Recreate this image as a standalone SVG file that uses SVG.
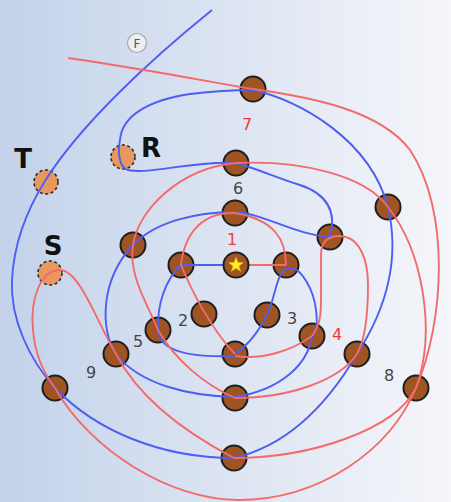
<svg xmlns="http://www.w3.org/2000/svg" width="451" height="502" viewBox="0 0 451 502">
<defs>
<linearGradient id="bg" x1="0" y1="0" x2="1" y2="0">
<stop offset="0" stop-color="#c3d2ea"/>
<stop offset="1" stop-color="#f5f6fa"/>
</linearGradient>
<style>
.b{fill:none;stroke:#4d5ef2;stroke-width:1.9}
.r{fill:none;stroke:#f26b6b;stroke-width:1.9}
.n{fill:#9e5423;stroke:#1e1e1e;stroke-width:2}
.o{fill:#e8985e;stroke:#2a2a2a;stroke-width:1.6;stroke-dasharray:3 2.5}
.lb{font-family:"DejaVu Sans",sans-serif;font-size:16px;fill:#444;text-anchor:middle}
.lr{font-family:"DejaVu Sans",sans-serif;font-size:16px;fill:#ee3a3a;text-anchor:middle}
.big{font-family:"DejaVu Sans",sans-serif;font-size:26px;font-weight:bold;fill:#111;text-anchor:middle}
</style>
</defs>
<rect width="451" height="502" fill="url(#bg)"/>
<g id="F"><circle cx="137" cy="43" r="9.5" fill="#eceef2" stroke="#aaa" stroke-width="1.2"/><text x="137" y="47.5" font-family="DejaVu Sans,sans-serif" font-size="12" fill="#555" text-anchor="middle">F</text></g>
<g id="T"><circle class="o" cx="46" cy="182" r="12"/><text class="big" x="23" y="168">T</text></g>
<g id="R"><circle class="o" cx="123" cy="157" r="12"/><text class="big" x="151" y="157">R</text></g>
<g id="S"><circle class="o" cx="50" cy="273" r="12"/><text class="big" x="53" y="255">S</text></g>
<g id="n7"><circle class="n" cx="253" cy="89" r="12.5"/><text class="lr" x="247" y="130">7</text></g>
<g id="n6"><circle class="n" cx="236" cy="163" r="12.5"/><text class="lb" x="238" y="194">6</text></g>
<g id="n1"><circle class="n" cx="235" cy="213" r="12.5"/><text class="lr" x="232" y="245">1</text></g>
<g id="nli"><circle class="n" cx="181" cy="265" r="12.5"/></g>
<g id="nri"><circle class="n" cx="286" cy="265" r="12.5"/></g>
<g id="n2"><circle class="n" cx="204" cy="314" r="12.5"/><text class="lb" x="183" y="326">2</text></g>
<g id="n3"><circle class="n" cx="267" cy="315" r="12.5"/><text class="lb" x="292" y="324">3</text></g>
<g id="n5"><circle class="n" cx="158" cy="330" r="12.5"/><text class="lb" x="138" y="347">5</text></g>
<g id="n4"><circle class="n" cx="312" cy="336" r="12.5"/><text class="lr" x="337" y="340">4</text></g>
<g id="nbi"><circle class="n" cx="235" cy="354" r="12.5"/></g>
<g id="n9"><circle class="n" cx="116" cy="354" r="12.5"/><text class="lb" x="91" y="378">9</text></g>
<g id="nl"><circle class="n" cx="133" cy="245" r="12.5"/></g>
<g id="nr"><circle class="n" cx="330" cy="237" r="12.5"/></g>
<g id="nrr"><circle class="n" cx="388" cy="207" r="12.5"/></g>
<g id="nrb"><circle class="n" cx="357" cy="354" r="12.5"/></g>
<g id="n8"><circle class="n" cx="416" cy="388" r="12.5"/><text class="lb" x="389" y="381">8</text></g>
<g id="nll"><circle class="n" cx="55" cy="388" r="12.5"/></g>
<g id="nb1"><circle class="n" cx="235" cy="398" r="12.5"/></g>
<g id="nb2"><circle class="n" cx="234" cy="458" r="12.5"/></g>
<g id="connectors">
<path class="b" d="M236,265 L181,265"/>
<path class="b" d="M181,265 C165,280 157,305 158,330 C159,350 185,358 235,356"/>
<path class="b" d="M235,354 C252,342 260,328 267,315 C276,296 276,272 288,268 C302,266 314,292 316,310 C318,325 316,332 312,336"/>
<path class="b" d="M312,336 C308,365 280,390 235,397"/>
<path class="b" d="M235,397 C190,396 140,385 116,354"/>
<path class="b" d="M116,354 C100,330 100,280 133,245 C155,222 195,212 235,212"/>
<path class="b" d="M235,212 C265,214 295,235 330,237"/>
<path class="b" d="M330,237 C336,215 330,195 300,185 C275,177 255,168 236,163"/>
<path class="b" d="M236,163 C195,160 150,175 128,170 C118,167 118,150 120,140 C122,115 150,100 190,94 C215,91 240,90 253,90"/>
<path class="b" d="M253,90 C300,100 370,140 388,207 C398,250 392,300 357,354 C330,400 290,445 234,458"/>
<path class="b" d="M234,458 C160,458 95,430 55,388"/>
<path class="b" d="M55,388 C30,360 10,320 12,280 C14,240 30,205 45,181 C80,125 150,60 212,10"/>
<path class="r" d="M236,265 L286,265"/>
<path class="r" d="M286,265 C286,240 275,220 235,213"/>
<path class="r" d="M235,213 C205,212 185,230 181,265"/>
<path class="r" d="M181,265 C192,292 212,330 235,354"/>
<path class="r" d="M235,356 C260,360 290,352 312,336"/>
<path class="r" d="M312,336 C320,325 321,315 321,300 L321,255 C321,240 330,236 340,236 C360,237 368,260 368,285 C368,315 365,340 357,354"/>
<path class="r" d="M357,354 C340,380 290,398 235,398"/>
<path class="r" d="M235,398 C205,385 175,360 158,330 C148,305 128,275 133,245 C138,210 180,168 236,163"/>
<path class="r" d="M236,163 C300,160 365,175 388,207 C422,250 437,330 416,388 C395,430 310,458 234,458"/>
<path class="r" d="M234,458 C190,435 140,400 116,354 C98,325 80,270 60,270 C40,270 30,300 33,330 C35,355 45,375 55,388"/>
<path class="r" d="M55,388 C90,450 170,500 238,500 C320,500 390,450 416,388 C445,320 450,210 410,150 C380,110 310,97 253,89 C200,80 120,65 68,58"/>
</g>
<g id="nstar"><circle class="n" cx="236" cy="265" r="12.5"/><polygon points="236,257 237.9,262.3 243.6,262.5 239.1,266 240.7,271.5 236,268.3 231.3,271.5 232.9,266 228.4,262.5 234.1,262.3" fill="#ffee22" stroke="#e0a000" stroke-width="0.6"/></g>
</svg>
